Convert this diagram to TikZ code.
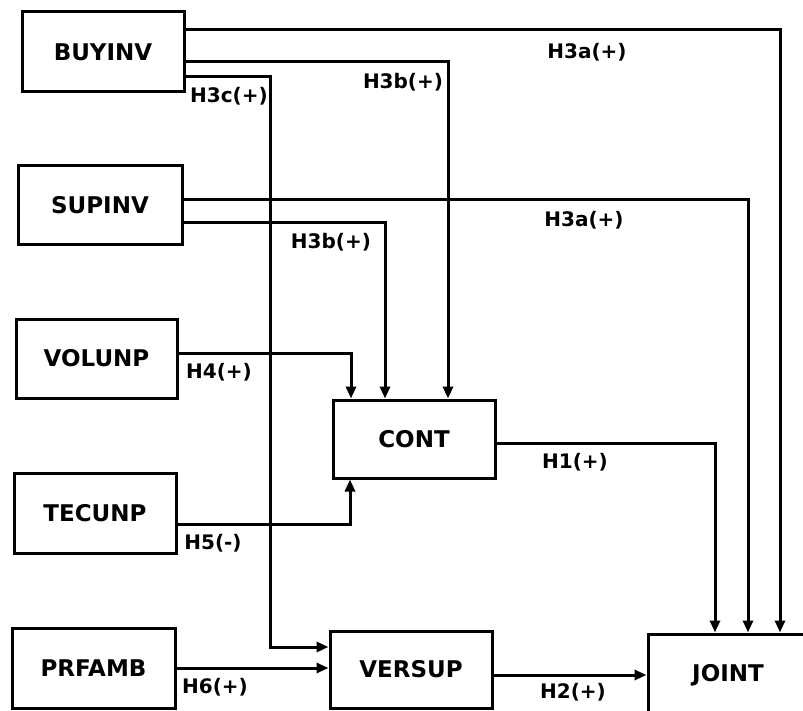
\documentclass[tikz,border=0pt]{standalone}
\usepackage{fontspec}
\setmainfont{DejaVu Sans}
\usetikzlibrary{arrows.meta}
\begin{document}
\begin{tikzpicture}[x=1pt,y=-1pt,
  box/.style={draw, line width=3pt, inner sep=0pt, font=\bfseries\fontsize{23}{27}\selectfont},
  lab/.style={inner sep=0pt, font=\bfseries\fontsize{20}{24}\selectfont},
  arr/.style={line width=3pt, -{Triangle[length=12pt,width=10pt]}}]
\useasboundingbox (0,0) rectangle (803,711);
\fill[white] (0,0) rectangle (803,711);
% boxes
\node[box, minimum width=162pt, minimum height=80pt] (buy) at (103,52) {BUYINV};
\node[box, minimum width=164pt, minimum height=79pt] (sup) at (100,205.5) {SUPINV};
\node[box, minimum width=161pt, minimum height=79pt] (vol) at (96.5,358.5) {VOLUNP};
\node[box, minimum width=162pt, minimum height=80pt] (tec) at (95,513) {TECUNP};
\node[box, minimum width=163pt, minimum height=80pt] (prf) at (93.5,668) {PRFAMB};
\node[box, minimum width=162pt, minimum height=78pt] (cont) at (414,439) {CONT};
\node[box, minimum width=162pt, minimum height=77pt] (ver) at (411,669.5) {VERSUP};
\node[box, minimum width=160pt, minimum height=82pt] (joint) at (728,675) {JOINT};
% connectors
\draw[arr] ([yshift=22pt]buy.east) -| ([xshift=52pt]joint.north);
\draw[arr] ([yshift=-10pt]buy.east) -| ([xshift=34pt]cont.north);
\draw[arr] ([yshift=-25pt]buy.east) -| ([yshift=22.5pt,xshift=-58pt]ver.west) -- ([yshift=22.5pt]ver.west);
\draw[arr] ([yshift=5.5pt]sup.east) -| ([xshift=20pt]joint.north);
\draw[arr] ([yshift=-17.5pt]sup.east) -| ([xshift=-29pt]cont.north);
\draw[arr] ([yshift=5.5pt]vol.east) -| ([xshift=-63pt]cont.north);
\draw[arr] ([yshift=-11pt]tec.east) -| ([xshift=-64pt]cont.south);
\draw[arr] ([yshift=-4pt]cont.east) -| ([xshift=-13pt]joint.north);
\draw[arr] (prf.east) -- (prf.east -| ver.west);
\draw[arr] ([yshift=-5.5pt]ver.east) -- (ver.east |- joint.west) -- (joint.west);
% labels
\node[lab] (l3a1) at (587,52) {H3a(+)};
\node[lab] (l3b1) at (403,82) {H3b(+)};
\node[lab] (l3c) at (229,96) {H3c(+)};
\node[lab] (l3a2) at (584,220) {H3a(+)};
\node[lab] (l3b2) at (331,242) {H3b(+)};
\node[lab] (l4) at (219,372) {H4(+)};
\node[lab] (l5) at (213,543) {H5(-)};
\node[lab] (l6) at (215,687) {H6(+)};
\node[lab] (l1) at (575,462) {H1(+)};
\node[lab] (l2) at (573,692) {H2(+)};
\end{tikzpicture}
\end{document}
